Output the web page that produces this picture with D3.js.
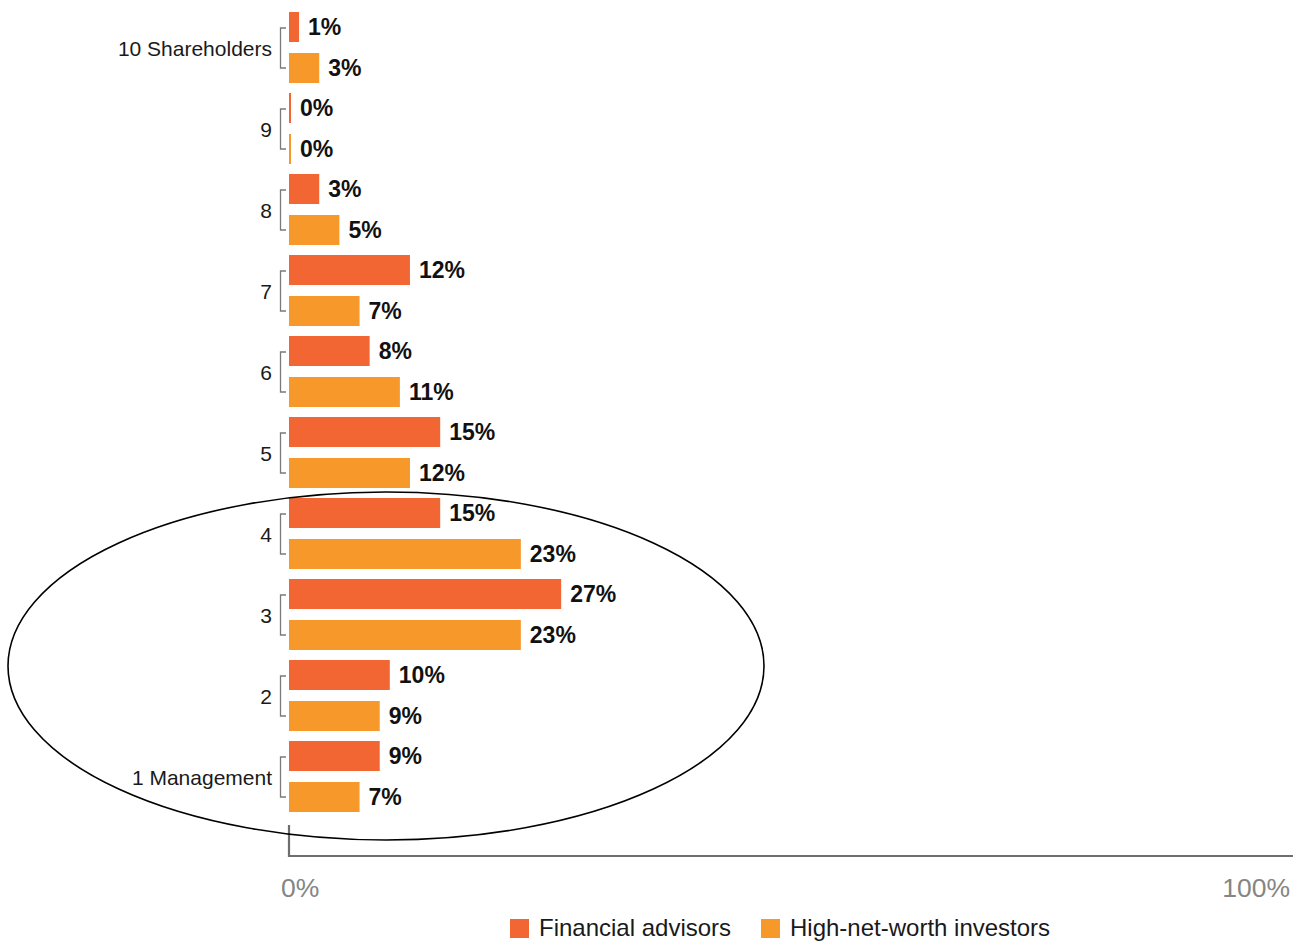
<!DOCTYPE html>
<html>
<head>
<meta charset="utf-8">
<script src="https://cdn.jsdelivr.net/npm/d3@7"></script>
<style>
  html, body { margin: 0; padding: 0; background: #fff; }
  svg { display: block; font-family: "Liberation Sans", Arial, Helvetica, sans-serif; }
</style>
</head>
<body>
<svg id="chart" width="1293" height="941"></svg>
<script>
// ---- data ----
const categories = ["10 Shareholders", "9", "8", "7", "6", "5", "4", "3", "2", "1 Management"];
const financialAdvisors = [1, 0, 3, 12, 8, 15, 15, 27, 10, 9];
const hnwInvestors      = [3, 0, 5, 7, 11, 12, 23, 23, 9, 7];
const seriesNames = ["Financial advisors", "High-net-worth investors"];
const seriesColors = ["#F26633", "#F7982A"];
const axisTicks = [0, 100];

const W = 1293, H = 941;
const svg = d3.select("#chart");

const x = d3.scaleLinear().domain([0, 100]).range([289, 1297]);
const y = d3.scaleBand().domain(categories).range([12, 822]).paddingInner(0).paddingOuter(0);
const sub = d3.scaleBand().domain(seriesNames).range([0, 71]).paddingInner(11/41).paddingOuter(0);

const series = [financialAdvisors, hnwInvestors];

// ---- brackets & category labels ----
const gCat = svg.append("g");
categories.forEach((c, i) => {
  const y0 = y(c) + sub(seriesNames[0]) + sub.bandwidth() / 2 + 1;
  const y1 = y(c) + sub(seriesNames[1]) + sub.bandwidth() / 2;
  gCat.append("path")
    .attr("d", `M286,${y0}H280.5V${y1}H286`)
    .attr("fill", "none").attr("stroke", "#7a7a7a").attr("stroke-width", 1.3);
  gCat.append("text")
    .attr("x", 272).attr("y", (y0 + y1) / 2 + 8)
    .attr("text-anchor", "end")
    .attr("font-size", 21).attr("fill", "#1a1a1a")
    .text(c);
});

// ---- bars ----
series.forEach((vals, s) => {
  const g = svg.append("g");
  g.selectAll("rect").data(vals).join("rect")
    .attr("x", x(0))
    .attr("y", (d, i) => y(categories[i]) + sub(seriesNames[s]))
    .attr("width", d => Math.max(2, x(d) - x(0)))
    .attr("height", sub.bandwidth())
    .attr("fill", seriesColors[s]);
  g.selectAll("text").data(vals).join("text")
    .attr("x", d => x(0) + Math.max(2, x(d) - x(0)) + 9)
    .attr("y", (d, i) => y(categories[i]) + sub(seriesNames[s]) + sub.bandwidth() / 2 + 8)
    .attr("font-size", 23).attr("font-weight", "bold").attr("fill", "#111")
    .text(d => d + "%");
});

// ---- axis ----
svg.append("path")
  .attr("d", `M${x(0)},825V856H${W}`)
  .attr("fill", "none").attr("stroke", "#6e6e6e").attr("stroke-width", 2.2);
svg.append("g").selectAll("text").data(axisTicks).join("text")
  .attr("x", d => d === 0 ? x(d) - 8 : Math.min(x(d), W) - 3)
  .attr("y", 897)
  .attr("text-anchor", d => d === 0 ? "start" : "end")
  .attr("font-size", 26.5).attr("fill", "#858585")
  .text(d => d + "%");

// ---- ellipse annotation ----
svg.append("ellipse")
  .attr("cx", 386).attr("cy", 666).attr("rx", 378).attr("ry", 174)
  .attr("fill", "none").attr("stroke", "#000").attr("stroke-width", 1.6);

// ---- legend ----
const legendX = [510, 761];
const lg = svg.append("g");
seriesNames.forEach((n, i) => {
  lg.append("rect").attr("x", legendX[i]).attr("y", 919).attr("width", 19).attr("height", 19).attr("fill", seriesColors[i]);
  lg.append("text").attr("x", legendX[i] + 29).attr("y", 936)
    .attr("font-size", 24).attr("fill", "#1a1a1a").text(n);
});
</script>
</body>
</html>
